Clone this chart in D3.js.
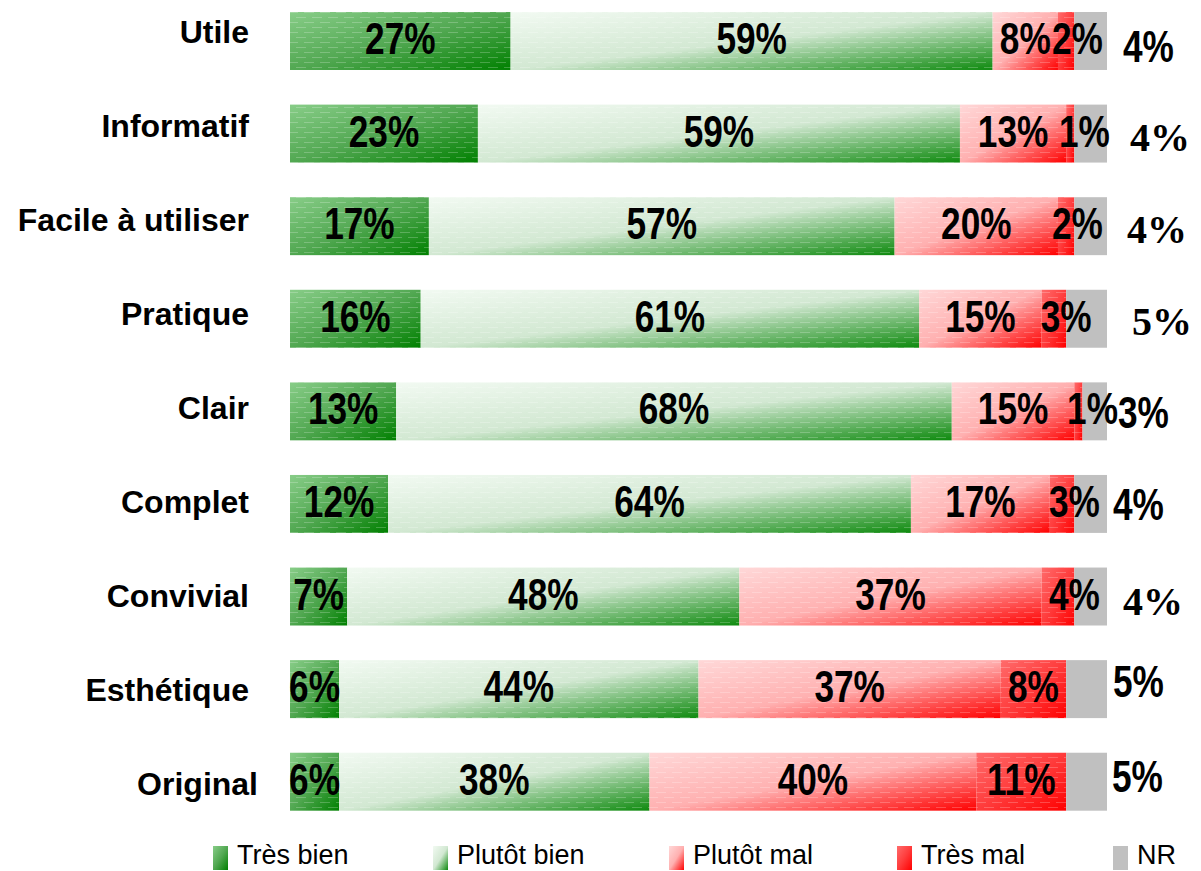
<!DOCTYPE html>
<html>
<head>
<meta charset="utf-8">
<script src="https://cdn.jsdelivr.net/npm/d3@7"></script>
<style>
  body { margin: 0; background: #fff; }
</style>
</head>
<body>
<div id="chart"></div>
<script>
const categories = ["Utile", "Informatif", "Facile à utiliser", "Pratique", "Clair", "Complet", "Convivial", "Esthétique", "Original"];
const tresBien   = [27, 23, 17, 16, 13, 12, 7, 6, 6];
const plutotBien = [59, 59, 57, 61, 68, 64, 48, 44, 38];
const plutotMal  = [8, 13, 20, 15, 15, 17, 37, 37, 40];
const tresMal    = [2, 1, 2, 3, 1, 3, 4, 8, 11];
const nr         = [4, 4, 4, 5, 3, 4, 4, 5, 5];
const seriesNames = ["Très bien", "Plutôt bien", "Plutôt mal", "Très mal", "NR"];

// placement of the NR labels on the right, they are not aligned in the original
const nrDx = [16, 23, 20, 25, 11, 6, 16, 6, 5];
const nrDy = [21, 17, 17, 16, 17, 16, 18, 8, 10];
const nrSerif = [false, true, true, true, false, false, true, false, false];
const legendX = [213, 433, 669, 897, 1113];

const width = 1201, height = 871;
const sans = '"Liberation Sans", Arial, sans-serif';
const serif = '"Liberation Serif", "Times New Roman", serif';

const rows = categories.map((c, i) => ({
    cat: c,
    "Très bien": tresBien[i],
    "Plutôt bien": plutotBien[i],
    "Plutôt mal": plutotMal[i],
    "Très mal": tresMal[i],
    "NR": nr[i]
}));

const svg = d3.select("#chart")
    .append("svg")
    .attr("width", width)
    .attr("height", height);

const defs = svg.append("defs");

const shades = [
    ["#88cd88", "#52a852", "#008000"],
    ["#f2faf2", "#d2e8d2", "#0e8a0e"],
    ["#ffd8d8", "#ffb0b0", "#ff0000"],
    ["#ff6c6c", "#ff3c3c", "#ff0000"]
];

shades.forEach((s, i) => {
    const g = defs.append("linearGradient")
        .attr("id", "grad" + i)
        .attr("x1", 0).attr("y1", 0)
        .attr("x2", 1).attr("y2", 1);
    g.append("stop").attr("offset", "0%").attr("stop-color", s[0]);
    g.append("stop").attr("offset", "50%").attr("stop-color", s[1]);
    g.append("stop").attr("offset", "100%").attr("stop-color", s[2]);
});

// faint dashed texture
const pat = defs.append("pattern")
    .attr("id", "dashes")
    .attr("patternUnits", "userSpaceOnUse")
    .attr("width", 16)
    .attr("height", 10);
pat.append("line").attr("x1", 0).attr("x2", 10).attr("y1", 2.5).attr("y2", 2.5);
pat.append("line").attr("x1", 8).attr("x2", 18).attr("y1", 7.5).attr("y2", 7.5);
pat.append("line").attr("x1", -8).attr("x2", 2).attr("y1", 7.5).attr("y2", 7.5);
pat.selectAll("line")
    .attr("stroke", "#ffffff")
    .attr("stroke-opacity", 0.22)
    .attr("stroke-width", 1);

const fillFor = i => i < 4 ? `url(#grad${i})` : "#c0c0c0";

const x = d3.scaleLinear().domain([0, 100]).range([290, 1107]);

const y = d3.scaleBand()
    .domain(categories)
    .range([-5.3, 828])
    .paddingInner(0.374)
    .paddingOuter(0.187);

const yLabel = d3.scalePoint()
    .domain(categories)
    .range([43, 795]);

const stacked = d3.stack().keys(seriesNames)(rows);

const layers = svg.append("g")
    .selectAll("g")
    .data(stacked)
    .join("g");

layers.selectAll("rect.seg")
    .data(d => d)
    .join("rect")
    .attr("class", "seg")
    .attr("x", d => x(d[0]))
    .attr("y", d => y(d.data.cat))
    .attr("width", d => x(d[1]) - x(d[0]))
    .attr("height", y.bandwidth())
    .attr("fill", function() { return fillFor(d3.select(this.parentNode).datum().index); });

layers.filter(d => d.index < 4)
    .selectAll("rect.tex")
    .data(d => d)
    .join("rect")
    .attr("class", "tex")
    .attr("x", d => x(d[0]))
    .attr("y", d => y(d.data.cat))
    .attr("width", d => x(d[1]) - x(d[0]))
    .attr("height", y.bandwidth())
    .attr("fill", "url(#dashes)");

// category labels
svg.append("g")
    .selectAll("text")
    .data(categories)
    .join("text")
    .attr("x", d => d === "Original" ? 258 : 249)
    .attr("y", d => yLabel(d))
    .attr("text-anchor", "end")
    .style("font-family", sans)
    .style("font-weight", "bold")
    .style("font-size", "32px")
    .style("fill", "#000")
    .text(d => d);

// value labels inside the bars (not NR)
const inLabels = [];
stacked.forEach((layer, li) => {
    if (li > 3) return;
    layer.forEach(d => {
        const v = d[1] - d[0];
        let cx = (x(d[0]) + x(d[1])) / 2;
        if (li === 3 && v < 5) cx = x(d[1]) + (v === 1 ? 10 : v === 2 ? 3 : 0);
        inLabels.push({ cx, cy: y(d.data.cat) + y.bandwidth() / 2 + 13, v });
    });
});

svg.append("g")
    .selectAll("text")
    .data(inLabels)
    .join("text")
    .attr("transform", d => `translate(${d.cx},${d.cy}) scale(0.8,1)`)
    .attr("text-anchor", "middle")
    .style("font-family", sans)
    .style("font-weight", "bold")
    .style("font-size", "44px")
    .style("fill", "#000")
    .text(d => d.v + "%");

// NR labels on the right
svg.append("g")
    .selectAll("text")
    .data(categories)
    .join("text")
    .attr("transform", (d, i) => {
        const tx = x(100) + nrDx[i];
        const ty = y(d) + y.bandwidth() / 2 + nrDy[i];
        return nrSerif[i] ? `translate(${tx},${ty})` : `translate(${tx},${ty}) scale(0.8,1)`;
    })
    .style("font-family", (d, i) => nrSerif[i] ? serif : sans)
    .style("font-weight", "bold")
    .style("font-size", (d, i) => nrSerif[i] ? "40px" : "44px")
    .style("fill", "#000")
    .text((d, i) => nr[i] + "%");

// legend
const legend = svg.append("g")
    .selectAll("g")
    .data(seriesNames)
    .join("g")
    .attr("transform", (d, i) => `translate(${legendX[i]},846)`);

legend.append("rect")
    .attr("width", 15)
    .attr("height", 24)
    .attr("fill", (d, i) => fillFor(i));

legend.append("text")
    .attr("x", 24)
    .attr("y", 18)
    .style("font-family", sans)
    .style("font-size", "27px")
    .style("fill", "#000")
    .text(d => d);
</script>
</body>
</html>
